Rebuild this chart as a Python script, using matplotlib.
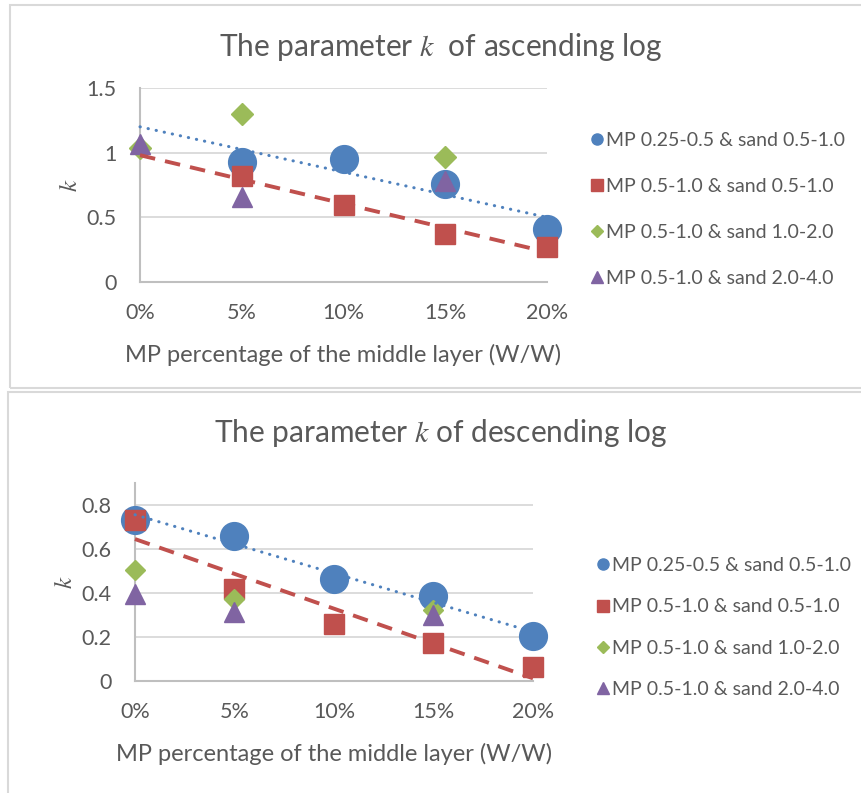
import numpy as np
import matplotlib
matplotlib.use("Agg")
import matplotlib.pyplot as plt
from matplotlib.lines import Line2D
from matplotlib.patches import Rectangle

plt.rcParams['font.family'] = ['Lato', 'DejaVu Sans']
plt.rcParams['mathtext.fontset'] = 'stix'

# 数据
categories = ['0%', '5%', '10%', '15%', '20%']
series_names = ['MP 0.25-0.5 & sand 0.5-1.0', 'MP 0.5-1.0 & sand 0.5-1.0',
                'MP 0.5-1.0 & sand 1.0-2.0', 'MP 0.5-1.0 & sand 2.0-4.0']
nan = np.nan

# 上升段 k
asc_blue = [nan, 0.93, 0.95, 0.76, 0.41]
asc_red = [nan, 0.816, 0.596, 0.37, 0.267]
asc_green = [1.036, 1.30, nan, 0.963, nan]
asc_purple = [1.07, 0.66, nan, 0.78, nan]

# 下降段 k
desc_blue = [0.733, 0.661, 0.465, 0.386, 0.206]
desc_red = [0.732, 0.42, 0.258, 0.172, 0.066]
desc_green = [0.503, 0.372, nan, 0.325, nan]
desc_purple = [0.398, 0.315, nan, 0.30, nan]

colors = ['#4f81bd', '#c0504d', '#9bbb59', '#8064a2']
markers = ['o', 's', 'D', '^']
txt = '#595959'
grid_c = '#d9d9d9'

fig = plt.figure(figsize=(8.62, 7.93), dpi=100)

# 外框
fig.patches.append(Rectangle((10 / 862, 1 - 388 / 793), 1.0, 383 / 793, transform=fig.transFigure,
                             fill=False, edgecolor=grid_c, lw=1.5))
fig.patches.append(Rectangle((8 / 862, -0.05), 1.0, 1 - 392 / 793 + 0.05, transform=fig.transFigure,
                             fill=False, edgecolor=grid_c, lw=1.5))


def trend(ax, vals, color, ls, lw, cap):
    x = np.arange(len(vals))
    y = np.array(vals, dtype=float)
    ok = ~np.isnan(y)
    p = np.polyfit(x[ok], y[ok], 1)
    xx = np.array([0, len(vals) - 1])
    ax.plot(xx, np.polyval(p, xx), color=color, ls=ls, lw=lw, dash_capstyle=cap,
            zorder=5, clip_on=False)


def panel(rect, data, sizes, ylim, yticks, yticklabels, title, title_y, leg_y, leg_x, spacing):
    ax = fig.add_axes(rect)
    x = np.arange(len(categories))
    for vals, c, m, s in zip(data, colors, markers, sizes):
        ax.plot(x, vals, ls='none', marker=m, ms=s, color=c, mec=c, clip_on=False, zorder=3)
    trend(ax, data[0], colors[0], (0, (0.1, 2.6)), 2.2, 'round')
    trend(ax, data[1], colors[1], (0, (4, 2.6)), 2.8, 'butt')
    ax.set_xlim(0, 4)
    ax.set_ylim(*ylim)
    ax.set_xticks(x)
    ax.set_xticklabels(categories)
    ax.set_yticks(yticks)
    ax.set_yticklabels(yticklabels)
    ax.tick_params(length=0, labelsize=15.5, labelcolor=txt)
    ax.tick_params(axis='x', pad=15)
    ax.tick_params(axis='y', pad=17)
    ax.grid(axis='y', color=grid_c, lw=1.3)
    ax.set_axisbelow(True)
    for s in ['top', 'right']:
        ax.spines[s].set_visible(False)
    for s in ['left', 'bottom']:
        ax.spines[s].set_color('#bfbfbf')
        ax.spines[s].set_linewidth(1.5)
    ax.set_xlabel('MP percentage of the middle layer (W/W)', fontsize=17, color=txt, labelpad=15)
    ax.set_ylabel('$k$', fontsize=18, color=txt, labelpad=4)
    fig.text(441 / 862, 1 - title_y / 793, title, fontsize=21.5, color=txt, ha='center', va='center')
    handles = [Line2D([], [], ls='none', marker=m, ms=8 if m != 'D' else 6.5, color=c) for c, m in zip(colors, markers)]
    ax.legend(handles, series_names, loc='center left', bbox_to_anchor=(leg_x / 862, 1 - leg_y / 793),
              bbox_transform=fig.transFigure, frameon=False, fontsize=14, labelcolor=txt,
              handlelength=0.5, handletextpad=0.25, labelspacing=spacing, borderpad=0)
    return ax


panel([140 / 862, 1 - 282 / 793, 407 / 862, 194 / 793],
      [asc_blue, asc_red, asc_green, asc_purple], [20, 14.4, 11.7, 14.4],
      (0, 1.5), [0, 0.5, 1, 1.5], ['0', '0.5', '1', '1.5'],
      'The parameter $k$  of ascending log', 47, 209.5, 582, 1.49)

panel([135 / 862, 1 - 681.3 / 793, 398 / 862, 198.3 / 793],
      [desc_blue, desc_red, desc_green, desc_purple], [20, 14.4, 9.7, 14.4],
      (0, 0.9), [0, 0.2, 0.4, 0.6, 0.8], ['0', '0.2', '0.4', '0.6', '0.8'],
      'The parameter $k$ of descending log', 433, 627.5, 588, 1.25)

fig.savefig('out.png', dpi=100)
